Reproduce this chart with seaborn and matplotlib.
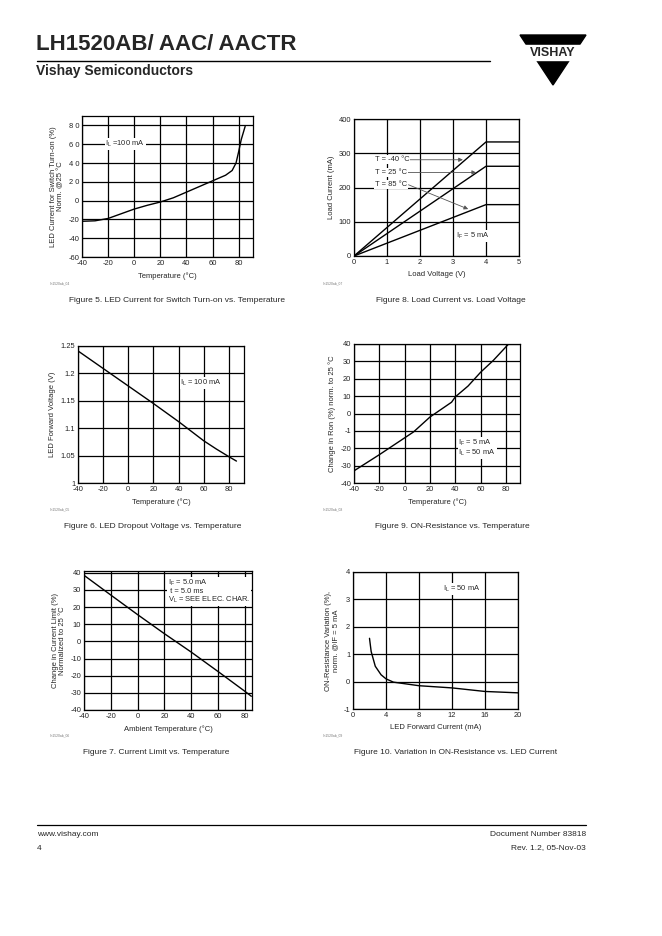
import matplotlib
matplotlib.use("Agg")
import matplotlib.pyplot as plt
import seaborn as sns
import pandas as pd
from matplotlib.patches import Polygon, Rectangle

# Figure 5 - LED current for switch turn-on vs temperature
f5_temp = [-40, -30, -20, -10, 0, 10, 20, 30, 40, 50, 60, 70, 75, 78, 80, 82, 85]
f5_curr = [-22, -21.5, -19, -14, -9, -5, -1.5, 3, 9, 15, 21, 27, 32, 40, 52, 65, 79]
f5_yticks = [-60, -40, -20, 0, 20, 40, 60, 80]
f5_ylabels = ["-60", "-40", "-20", "0", "2 0", "4 0", "6 0", "8 0"]

# Figure 8 - load current vs load voltage (three temperatures)
f8_volt = [0, 4, 5]
f8_m40 = [0, 333, 333]
f8_25 = [0, 262, 262]
f8_85 = [0, 150, 150]

# Figure 6 - LED dropout voltage vs temperature
f6_temp = [-40, -20, 0, 20, 40, 60, 70, 80, 86]
f6_volt = [1.241, 1.209, 1.177, 1.145, 1.112, 1.077, 1.062, 1.048, 1.040]

# Figure 9 - ON-resistance vs temperature
f9_temp = [-40, -20, 0, 7, 20, 37, 40, 50, 60, 70, 82]
f9_ron = [-33, -23.7, -14, -10.6, -2, 6.5, 9.6, 15.8, 23.8, 30.6, 40]
f9_yticks = [-40, -30, -20, -10, 0, 10, 20, 30, 40]
f9_ylabels = ["-40", "-30", "-20", "-1", "0", "10", "20", "30", "40"]

# Figure 7 - current limit vs temperature
f7_temp = [-40, -20, 0, 20, 40, 60, 80, 85]
f7_lim = [38.5, 27, 15.6, 4.5, -6.2, -17.5, -29, -32]

# Figure 10 - ON-resistance variation vs LED current
f10_curr = [2.0, 2.2, 2.7, 3.4, 4.0, 4.9, 8, 12, 16, 20]
f10_var = [1.58, 1.1, 0.56, 0.25, 0.1, -0.02, -0.15, -0.23, -0.36, -0.41]

sns.set_style("white")
plt.rcParams["font.family"] = ["Liberation Sans", "DejaVu Sans"]
plt.rcParams["axes.unicode_minus"] = False

W, H = 662, 936
fig = plt.figure(figsize=(W / 100, H / 100), dpi=100)


def make_ax(x0, y0, x1, y1):
    return fig.add_axes([x0 / W, 1 - y1 / H, (x1 - x0) / W, (y1 - y0) / H])


def style(ax, xlabel, ylabel):
    ax.grid(True, color="black", lw=0.9)
    ax.set_axisbelow(True)
    for s in ax.spines.values():
        s.set_color("black")
        s.set_linewidth(0.9)
        s.set_visible(True)
    ax.tick_params(length=0, labelsize=5.4, pad=2, colors="#222222")
    ax.set_xlabel(xlabel, fontsize=5.5, labelpad=4)
    ax.set_ylabel(ylabel, fontsize=5.5, labelpad=3, linespacing=1.0)


def fig_text(x, y, s, **kw):
    fig.text(x / W, 1 - y / H, s, **kw)


line_kw = dict(color="black", lw=1.0, estimator=None, sort=False)
box = dict(facecolor="white", edgecolor="none", pad=0.6)
ann = 5.4

# ---- Figure 5
ax = make_ax(82, 116, 253, 257)
sns.lineplot(x=f5_temp, y=f5_curr, ax=ax, **line_kw)
ax.set_xlim(-40, 91)
ax.set_ylim(-60, 90)
ax.set_xticks([-40, -20, 0, 20, 40, 60, 80])
ax.set_yticks(f5_yticks)
ax.set_yticklabels(f5_ylabels)
style(ax, "Temperature (°C)", "LED Current for Switch Turn-on (%)\nNorm. @25 °C")
ax.text(-22, 60, "I$_\\mathregular{L}$ =100 mA", fontsize=ann, va="center", bbox=box)

# ---- Figure 8
ax = make_ax(354, 119, 519, 256)
for ys in (f8_m40, f8_25, f8_85):
    sns.lineplot(x=f8_volt, y=ys, ax=ax, **line_kw)
ax.set_xlim(0, 5)
ax.set_ylim(0, 400)
ax.set_xticks([0, 1, 2, 3, 4, 5])
ax.set_yticks([0, 100, 200, 300, 400])
style(ax, "Load Voltage (V)", "Load Current (mA)")
arr = dict(arrowstyle="-|>", color="#555555", lw=0.6, mutation_scale=6, shrinkA=0, shrinkB=0)
ax.annotate("", xy=(3.3, 281), xytext=(1.6, 281), arrowprops=arr)
ax.annotate("", xy=(3.7, 244), xytext=(1.55, 244), arrowprops=arr)
ax.annotate("", xy=(3.46, 137), xytext=(1.65, 208), arrowprops=arr)
ax.text(0.63, 281, "T = -40 °C", fontsize=ann, va="center", bbox=box)
ax.text(0.63, 244, "T = 25 °C", fontsize=ann, va="center", bbox=box)
ax.text(0.63, 208, "T = 85 °C", fontsize=ann, va="center", bbox=box)
ax.text(3.1, 58, "I$_\\mathregular{F}$ = 5 mA", fontsize=ann, va="center", bbox=box)

# ---- Figure 6
ax = make_ax(78, 346, 244, 483)
sns.lineplot(x=f6_temp, y=f6_volt, ax=ax, **line_kw)
ax.set_xlim(-40, 92)
ax.set_ylim(1.0, 1.25)
ax.set_xticks([-40, -20, 0, 20, 40, 60, 80])
ax.set_yticks([1.0, 1.05, 1.1, 1.15, 1.2, 1.25])
ax.set_yticklabels(["1", "1.05", "1.1", "1.15", "1.2", "1.25"])
style(ax, "Temperature (°C)", "LED Forward Voltage (V)")
ax.text(41.5, 1.182, "I$_\\mathregular{L}$ = 100 mA", fontsize=ann, va="center", bbox=box)

# ---- Figure 9
ax = make_ax(354, 344, 520, 483)
sns.lineplot(x=f9_temp, y=f9_ron, ax=ax, **line_kw)
ax.set_xlim(-40, 91)
ax.set_ylim(-40, 40)
ax.set_xticks([-40, -20, 0, 20, 40, 60, 80])
ax.set_yticks(f9_yticks)
ax.set_yticklabels(f9_ylabels)
style(ax, "Temperature (°C)", "Change in Ron (%) norm. to 25 °C")
ax.text(42.4, -19.8, "I$_\\mathregular{F}$ = 5 mA\nI$_\\mathregular{L}$ = 50 mA",
        fontsize=ann, va="center", linespacing=1.1, bbox=box)

# ---- Figure 7
ax = make_ax(84, 571, 252, 710)
sns.lineplot(x=f7_temp, y=f7_lim, ax=ax, **line_kw)
ax.set_xlim(-40, 85.5)
ax.set_ylim(-40, 41)
ax.set_xticks([-40, -20, 0, 20, 40, 60, 80])
ax.set_yticks([-40, -30, -20, -10, 0, 10, 20, 30, 40])
style(ax, "Ambient Temperature (°C)", "Change in Current Limit (%)\nNormalized to 25 °C")
ax.text(22.4, 29, "I$_\\mathregular{F}$ = 5.0 mA\n t = 5.0 ms\nV$_\\mathregular{L}$ = SEE ELEC. CHAR.",
        fontsize=ann, va="center", linespacing=1.0, bbox=box)

# ---- Figure 10
ax = make_ax(353, 572, 518, 709)
sns.lineplot(x=f10_curr, y=f10_var, ax=ax, **line_kw)
ax.set_xlim(0, 20)
ax.set_ylim(-1, 4)
ax.set_xticks([0, 4, 8, 12, 16, 20])
ax.set_yticks([-1, 0, 1, 2, 3, 4])
style(ax, "LED Forward Current (mA)", "ON-Resistance Variation (%),\nnorm. @IF = 5 mA")
ax.text(10.9, 3.37, "I$_\\mathregular{L}$ = 50 mA", fontsize=ann, va="center", bbox=box)

# ---- captions and small file codes
cap = dict(fontsize=6, ha="center", va="center")
fig_text(177, 301, "Figure 5. LED Current for Switch Turn-on vs. Temperature", **cap)
fig_text(451, 301, "Figure 8. Load Current vs. Load Voltage", **cap)
fig_text(153, 527, "Figure 6. LED Dropout Voltage vs. Temperature", **cap)
fig_text(452, 527, "Figure 9. ON-Resistance vs. Temperature", **cap)
fig_text(156, 753, "Figure 7. Current Limit vs. Temperature", **cap)
fig_text(456, 753, "Figure 10. Variation in ON-Resistance vs. LED Current", **cap)

code = dict(fontsize=2.4, color="#777777", va="center")
fig_text(50, 283, "ilh1520ab_04", **code)
fig_text(323, 283, "ilh1520ab_07", **code)
fig_text(50, 509, "ilh1520ab_05", **code)
fig_text(323, 509, "ilh1520ab_08", **code)
fig_text(50, 735, "ilh1520ab_06", **code)
fig_text(323, 735, "ilh1520ab_09", **code)

# ---- header
fig_text(36, 45, "LH1520AB/ AAC/ AACTR", fontsize=16, fontweight="bold", va="center")
fig_text(36, 71, "Vishay Semiconductors", fontsize=10, fontweight="bold", va="center")
fig.add_artist(plt.Line2D([37 / W, 490 / W], [1 - 61 / H, 1 - 61 / H], color="black", lw=1.0))

# logo
lax = fig.add_axes([518 / W, 1 - 87 / H, 70 / W, 54 / H])
lax.set_xlim(0, 70)
lax.set_ylim(54, 0)
lax.axis("off")
lax.add_patch(Polygon([[2, 2], [68, 2], [35, 52]], closed=True, color="black"))
lax.add_patch(Rectangle((0, 12), 70, 15, color="white"))
lax.text(35, 19.5, "VISHAY", fontsize=9, fontweight="bold", ha="center", va="center")

# ---- footer
fig.add_artist(plt.Line2D([37 / W, 586 / W], [1 - 825 / H, 1 - 825 / H], color="black", lw=0.9))
foot = dict(fontsize=6, va="center")
fig_text(37, 834, "www.vishay.com", **foot)
fig_text(37, 848, "4", **foot)
fig_text(586, 834, "Document Number 83818", ha="right", **foot)
fig_text(586, 848, "Rev. 1.2, 05-Nov-03", ha="right", **foot)

fig.savefig("out.png", dpi=100, facecolor="white")
